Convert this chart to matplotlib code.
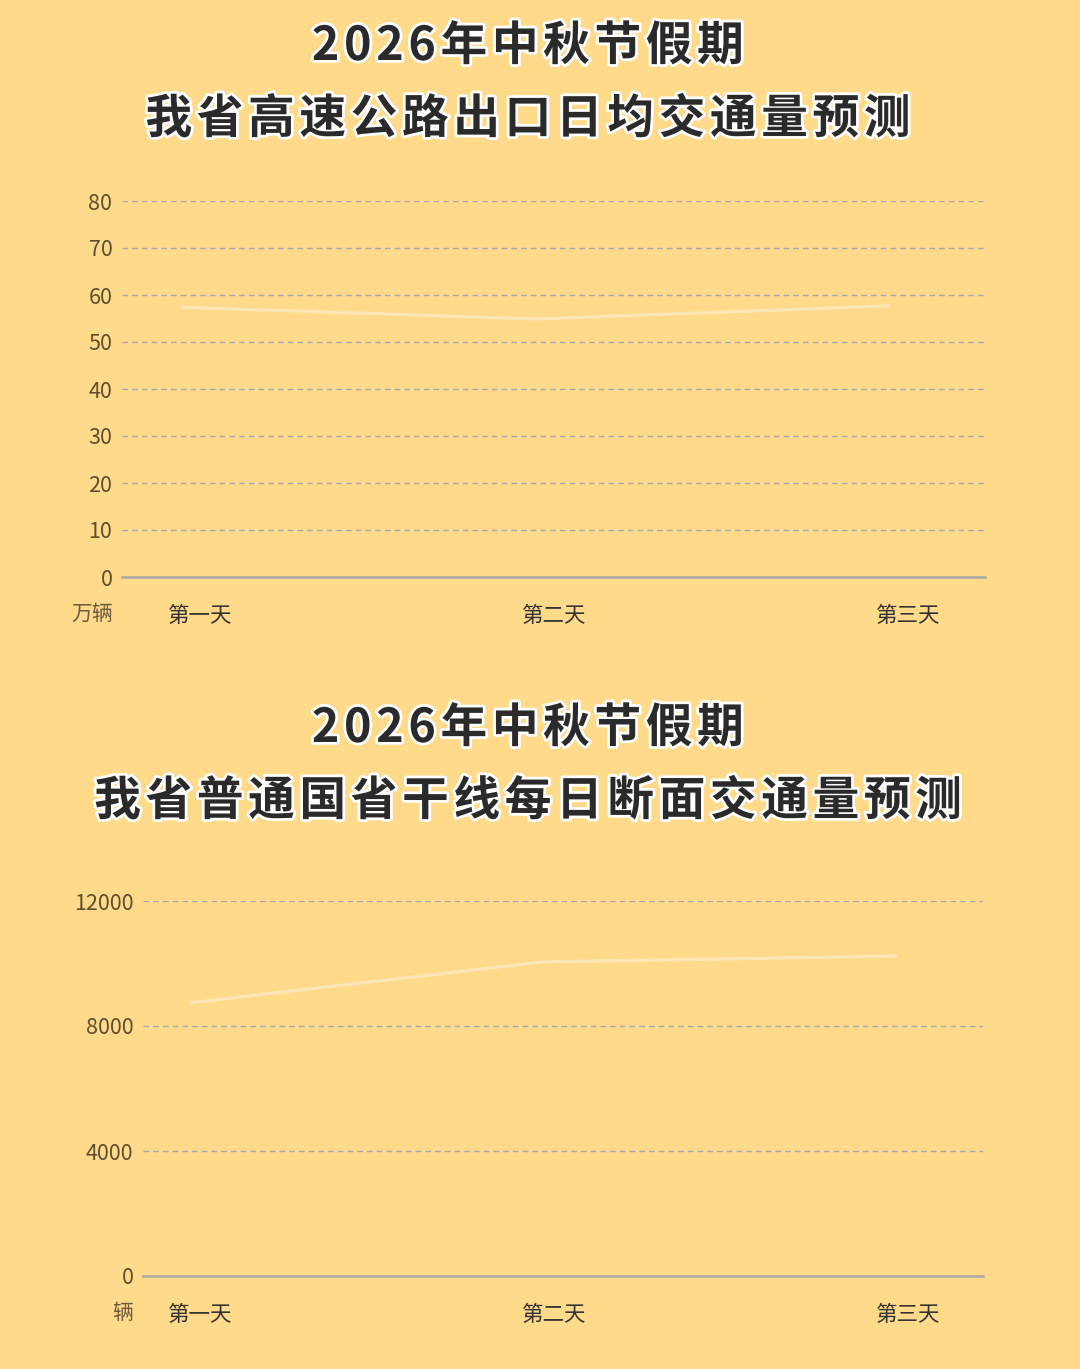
import matplotlib.pyplot as plt
import matplotlib.patheffects as pe
from matplotlib.transforms import ScaledTranslation

plt.rcParams['font.family'] = ['Noto Sans CJK SC', 'DejaVu Sans']

# 数据
days = ['第一天', '第二天', '第三天']
highway_exit = [57.4, 54.9, 57.7]          # 万辆
trunk_section = [8740, 10050, 10240]       # 辆
highway_ticks = [0, 10, 20, 30, 40, 50, 60, 70, 80]
trunk_ticks = [0, 4000, 8000, 12000]

title_top = ['2026年中秋节假期', '我省高速公路出口日均交通量预测']
title_bottom = ['2026年中秋节假期', '我省普通国省干线每日断面交通量预测']

bg = '#FFDA8A'
line_col = '#FDE7B6'
grid_col = '#A3A6B6'
tick_col = '#5E4E30'
cat_col = '#333333'

fig = plt.figure(figsize=(10.8, 13.69), dpi=100)
fig.patch.set_facecolor(bg)


def draw_title(lines, y1, y2):
    # 字间距：在字符之间插入细空格
    for txt, y in zip(lines, (y1, y2)):
        spaced = '\u200a'.join(txt)
        fig.text(527.5 / 1080, y, spaced, ha='center', va='center',
                 fontsize=33.6, fontweight='bold', color='#2A2A2A',
                 path_effects=[pe.withStroke(linewidth=4, foreground='white')])


def draw_chart(rect, values, ticks, unit, unit_x, xlim, shift):
    ax = fig.add_axes(rect)
    ax.set_facecolor(bg)
    x = list(range(len(values)))
    tr = ax.transData + ScaledTranslation(shift / 100, 0, fig.dpi_scale_trans)
    ax.plot(x, values, color=line_col, lw=2.4, solid_capstyle='butt',
            transform=tr, zorder=3)
    ax.set_xlim(*xlim)
    ax.set_ylim(ticks[0], ticks[-1])
    ax.set_yticks(ticks)
    ax.set_yticklabels([str(t) for t in ticks], fontsize=15.5, color=tick_col)
    ax.set_xticks(x)
    ax.set_xticklabels(days, fontsize=15.5, color=cat_col)
    ax.tick_params(length=0, pad=7)
    ax.tick_params(axis='x', pad=20)
    for t in ticks[1:]:
        ax.axhline(t, color=grid_col, lw=1, ls=(0, (4, 3)), zorder=1)
    for s in ['top', 'right', 'left']:
        ax.spines[s].set_visible(False)
    ax.spines['bottom'].set_color('#A8A8A8')
    ax.spines['bottom'].set_linewidth(1.8)
    ax.text(unit_x, -0.098, unit, transform=ax.transAxes, ha='center',
            va='center', fontsize=15, color='#6B5B3E')
    return ax


draw_title(title_top, 1 - 46 / 1369, 1 - 119 / 1369)
draw_chart([122 / 1080, 792 / 1369, 863 / 1080, 376 / 1369],
           highway_exit, highway_ticks, '万辆', -0.035, (-0.22, 2.217), -19)

draw_title(title_bottom, 1 - 728 / 1369, 1 - 801 / 1369)
draw_chart([143 / 1080, 93 / 1369, 840 / 1080, 375 / 1369],
           trunk_section, trunk_ticks, '辆', -0.024, (-0.161, 2.212), -11)

fig.savefig('out.png', dpi=100, facecolor=bg)
